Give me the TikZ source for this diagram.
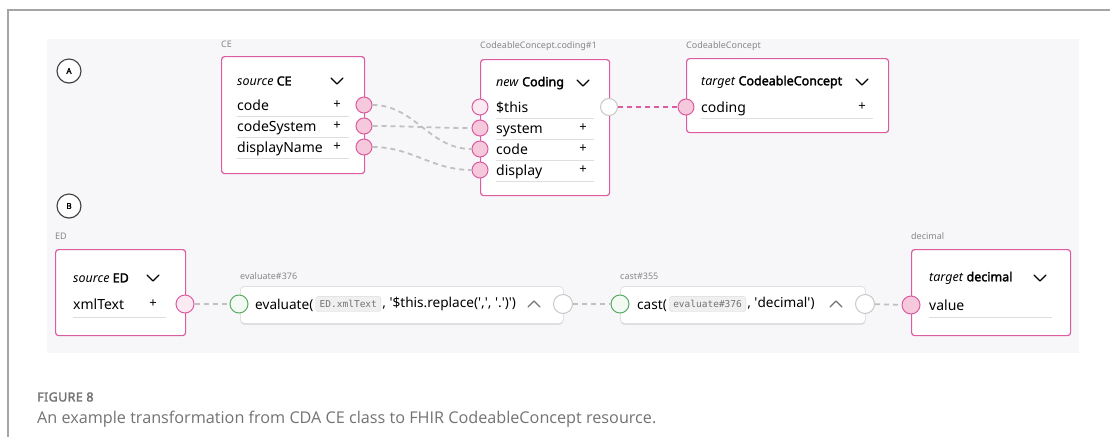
\documentclass[tikz,border=0pt]{standalone}
\usepackage{fontspec}
\setmainfont{Noto Sans}[BoldFont={Noto Sans}, BoldFeatures={FakeBold=2.2}]
\setmonofont{DejaVu Sans Mono}
\newfontfamily\capfont{Open Sans}
\usetikzlibrary{shadows}
\definecolor{pinkline}{RGB}{221,92,160}
\definecolor{portfill}{RGB}{246,200,220}
\definecolor{portlight}{RGB}{252,234,242}
\definecolor{panel}{RGB}{247,247,249}
\definecolor{wire}{RGB}{192,192,192}
\definecolor{okgreen}{RGB}{88,172,100}
\definecolor{greenfill}{RGB}{243,250,244}
\definecolor{sepline}{RGB}{222,222,226}
\definecolor{labelgray}{RGB}{135,135,135}
\definecolor{capgray}{RGB}{115,115,115}
\definecolor{framegray}{RGB}{165,165,165}
\definecolor{chipfill}{RGB}{240,240,240}
\definecolor{chipline}{RGB}{220,220,220}
\newcommand\sq{\textquotesingle}
\tikzset{
  x=1pt, y=-1pt,
  classbox/.style={draw=pinkline, line width=1.2pt, fill=white, rounded corners=3pt,
    anchor=north west, inner sep=0},
  fnbox/.style={draw=black!12, line width=0.8pt, fill=white, rounded corners=4pt,
    anchor=north west, inner sep=0,
    drop shadow={shadow xshift=0pt, shadow yshift=-1.5pt, opacity=0.10, fill=black}},
  tag/.style={anchor=west, inner sep=0, text=labelgray, font=\fontsize{9}{10}\selectfont},
  head/.style={anchor=west, inner sep=0, font=\fontsize{12.5}{14}\selectfont},
  rowtext/.style={anchor=west, inner sep=0, font=\fontsize{14}{16}\selectfont,
    text height=10pt, text depth=3pt, yshift=-1.5pt},
  fntext/.style={rowtext, font=\fontsize{13.6}{16}\selectfont},
  plus/.style={inner sep=0, font=\fontsize{13}{14}\selectfont},
  sep/.style={draw=sepline, line width=0.9pt},
  port/.style={circle, draw=pinkline, line width=1pt, minimum size=16pt, inner sep=0, fill=portfill},
  lightport/.style={port, fill=portlight},
  outport/.style={circle, draw=black!22, line width=1pt, minimum size=17pt, inner sep=0, fill=white},
  inport/.style={circle, draw=okgreen, line width=1pt, minimum size=18pt, inner sep=0, fill=greenfill},
  wireline/.style={draw=wire, line width=1.8pt, dash pattern=on 5pt off 4pt},
  pinkwire/.style={draw=pinkline, line width=1.8pt, dash pattern=on 5pt off 4pt},
  chip/.style={anchor=west, fill=chipfill, draw=chipline, rounded corners=3pt, inner xsep=4pt,
    inner ysep=4pt, text=black!55, font=\ttfamily\fontsize{9.5}{10}\selectfont},
  badge/.style={circle, draw=black!75, line width=1.1pt, fill=white, minimum size=24pt, inner sep=0,
    font=\bfseries\fontsize{8}{9}\selectfont,
    drop shadow={shadow xshift=0pt, shadow yshift=-1pt, opacity=0.12, fill=black}},
  chevron/.pic={\draw[line width=1.2pt, line cap=round, line join=round] (-6,-3) -- (0,3) -- (6,-3);},
  caret/.pic={\draw[black!55, line width=1.1pt, line cap=round, line join=round] (-6,3) -- (0,-3) -- (6,3);},
}
\begin{document}
\begin{tikzpicture}
\useasboundingbox (0,0) rectangle (1110,437);
\fill[white] (0,0) rectangle (1110,437);

% page frame and grey canvas
\draw[framegray, line width=1.4pt] (8,437) -- (8,10) -- (1110,10);
\fill[panel] (47,39) rectangle (1079,353);

% section badges
\node[badge] (ba) at (69,71) {A};
\node[badge] (bb) at (69,206) {B};

% ---------------- A: source CE ----------------
\node[tag] (ce-tag) at (221,44) {CE};
\node[classbox, minimum width=143, minimum height=117] (ce) at (221,56) {};
\node[head] (ce-head) at (237,81) {\textit{source} \textbf{CE}};
\pic at (337,81) {chevron};
\node[rowtext] (ce-r1) at (237,105) {code};
\node[rowtext] (ce-r2) at (237,126) {codeSystem};
\node[rowtext] (ce-r3) at (237,147) {displayName};
\foreach \y in {105,126,147} \node[plus] at (337,\y) {+};
\foreach \y in {116,137,158} \draw[sep] (237,\y) -- (349,\y);
\node[port] (ce-p1) at (364,105) {};
\node[port] (ce-p2) at (364,126) {};
\node[port] (ce-p3) at (364,147) {};

% ---------------- A: new Coding ----------------
\node[tag] (co-tag) at (480,46) {CodeableConcept.coding\#1};
\node[classbox, minimum width=129, minimum height=136] (co) at (480,59) {};
\node[head] (co-head) at (496,83) {\textit{new} \textbf{Coding}};
\pic at (583,83) {chevron};
\node[rowtext] (co-r1) at (496,107) {\$this};
\node[rowtext] (co-r2) at (496,128) {system};
\node[rowtext] (co-r3) at (496,149) {code};
\node[rowtext] (co-r4) at (496,170) {display};
\foreach \y in {128,149,170} \node[plus] at (583,\y) {+};
\foreach \y in {118,139,160,181} \draw[sep] (496,\y) -- (594,\y);
\node[lightport] (co-this) at (480,107) {};
\node[port] (co-sys) at (480,128) {};
\node[port] (co-code) at (480,149) {};
\node[port] (co-disp) at (480,170) {};
\node[outport] (co-out) at (609,107) {};

% ---------------- A: target CodeableConcept ----------------
\node[tag] (cc-tag) at (686,46) {CodeableConcept};
\node[classbox, minimum width=202, minimum height=74] (cc) at (686,58) {};
\node[head] (cc-head) at (701,82) {\textit{target} \textbf{CodeableConcept}};
\pic at (862,82) {chevron};
\node[rowtext] (cc-r1) at (701,107) {coding};
\node[plus] at (862,107) {+};
\draw[sep] (701,118) -- (873,118);
\node[port] (cc-in) at (686,107) {};

% A: mappings
\draw[wireline] (ce-p1) to[out=0, in=180] (co-code);
\draw[wireline] (ce-p2) to[out=0, in=180] (co-sys);
\draw[wireline] (ce-p3) to[out=0, in=180] (co-disp);
\draw[pinkwire] (co-out) -- (cc-in);

% ---------------- B: source ED ----------------
\node[tag] (ed-tag) at (55,236) {ED};
\node[classbox, minimum width=130, minimum height=86] (ed) at (55,249) {};
\node[head] (ed-head) at (73,278) {\textit{source} \textbf{ED}};
\pic at (153,278) {chevron};
\node[rowtext] (ed-r1) at (73,304) {xmlText};
\node[plus] at (153,304) {+};
\draw[sep] (73,317) -- (166,317);
\node[lightport, minimum size=18pt] (ed-out) at (185,304) {};

% ---------------- B: evaluate ----------------
\node[tag] (ev-tag) at (240,276) {evaluate\#376};
\node[fnbox, minimum width=323, minimum height=37] (ev) at (240,286) {};
\node[fntext] (ev-t1) at (255,304) {evaluate(};
\node[chip, xshift=2pt] (ev-chip) at ([yshift=1.5pt]ev-t1.east) {ED.xmlText};
\node[fntext, xshift=1pt] (ev-t2) at ([yshift=1.5pt]ev-chip.east) {, \sq\$this.replace(\sq,\sq, \sq.\sq)\sq)};
\pic at (534,304) {caret};
\node[inport] (ev-in) at (239,304) {};
\node[outport, minimum size=19pt] (ev-out) at (563,304) {};

% ---------------- B: cast ----------------
\node[tag] (ca-tag) at (620,276) {cast\#355};
\node[fnbox, minimum width=245, minimum height=37] (ca) at (620,286) {};
\node[fntext] (ca-t1) at (637,304) {cast(};
\node[chip, xshift=2pt] (ca-chip) at ([yshift=1.5pt]ca-t1.east) {evaluate\#376};
\node[fntext, xshift=1pt] (ca-t2) at ([yshift=1.5pt]ca-chip.east) {, \sq decimal\sq)};
\pic at (836,304) {caret};
\node[inport] (ca-in) at (620,304) {};
\node[outport, minimum size=19pt] (ca-out) at (865,304) {};

% ---------------- B: target decimal ----------------
\node[tag] (de-tag) at (911,236) {decimal};
\node[classbox, minimum width=159, minimum height=86] (de) at (911,249) {};
\node[head] (de-head) at (929,278) {\textit{target} \textbf{decimal}};
\pic at (1040,278) {chevron};
\node[rowtext] (de-r1) at (929,305) {value};
\draw[sep] (929,317) -- (1052,317);
\node[port, minimum size=18pt] (de-in) at (911,305) {};

% B: pipeline
\draw[wireline] (ed-out) -- (ev-in);
\draw[wireline] (ev-out) -- (ca-in);
\draw[wireline] (ca-out) -- (de-in);

% caption
\node[anchor=west, inner sep=0, text=capgray, font=\bfseries\fontsize{12.5}{14}\selectfont\addfontfeature{LetterSpace=3}] (fig) at (37,397) {FIGURE 8};
\node[anchor=west, inner sep=0, text=capgray, font=\capfont\fontsize{16.2}{18}\selectfont] (cap) at (37,419)
  {An example transformation from CDA CE class to FHIR CodeableConcept resource.};
\end{tikzpicture}
\end{document}
